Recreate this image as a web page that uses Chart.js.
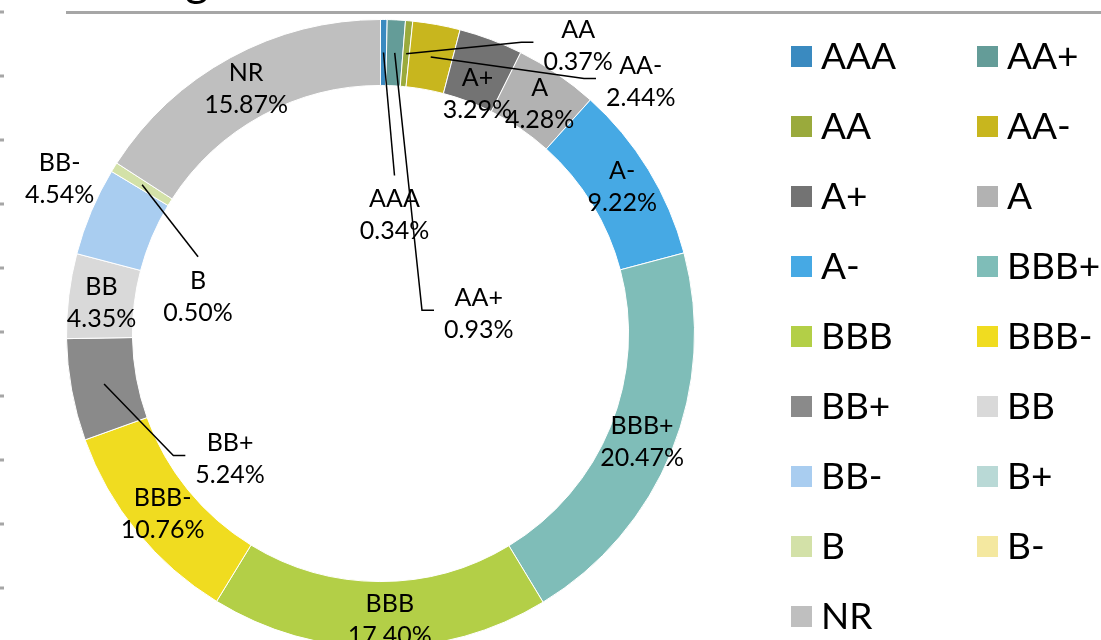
<!DOCTYPE html>
<html>
<head>
<meta charset="utf-8">
<script src="https://cdn.jsdelivr.net/npm/chart.js@4.4.0/dist/chart.umd.min.js"></script>
<style>
  html, body { margin: 0; padding: 0; overflow: hidden; background: #fff; }
  #wrap { position: absolute; left: 0; top: 0; width: 1101px; height: 660px; }
  #legend { position: absolute; left: 791px; top: 46px; display: grid;
            grid-template-columns: 186px 120px; grid-auto-rows: 70px;
            font-family: Lato, sans-serif; font-size: 37px; color: #000; }
  .item { display: flex; align-items: center; height: 21px; white-space: nowrap; }
  .box { width: 21px; height: 21px; margin-right: 9px; flex: none; }
  .item span { position: relative; top: -2px; line-height: 21px; }
</style>
</head>
<body>
<div id="wrap"><canvas id="graficoRating"></canvas></div>
<div id="legend"></div>
<script>
// rating buckets, share of portfolio in %
var ratingLabels = ['AAA','AA+','AA','AA-','A+','A','A-','BBB+','BBB','BBB-','BB+','BB','BB-','B+','B','B-','NR'];
var ratingShares = [0.34, 0.93, 0.37, 2.44, 3.29, 4.28, 9.22, 20.47, 17.40, 10.76, 5.24, 4.35, 4.54, 0, 0.50, 0, 15.87];
var ratingColors = ['#3a8ac0','#649c98','#9aaa3c','#c8b61e','#737373','#b2b2b2','#46a9e4','#7fbdb8',
                    '#b3cf47','#f0dc20','#8a8a8a','#d9d9d9','#a9cdf0','#b9d9d6','#d3e1a8','#f4e8a0','#bfbfbf'];

// where excel moved the labels (relative to the middle of the ring) and which get a leader line
var labelNudge = {
  'AAA':  {dx: 11,  dy: 162, leader: 'top'},
  'AA+':  {dx: 84,  dy: 260, leader: 'side'},
  'AA':   {dx: 172, dy: -9,  leader: 'side'},
  'AA-':  {dx: 210, dy: 24,  leader: 'side'},
  'A+':   {dx: -2,  dy: 23},
  'A':    {dx: 1,   dy: 2},
  'A-':   {dx: 2,   dy: -1},
  'BBB+': {dx: 1,   dy: 2},
  'BBB':  {dx: 10,  dy: 4},
  'BBB-': {dx: 0,   dy: 2},
  'BB+':  {dx: 126, dy: 74,  leader: 'side'},
  'BB':   {dx: 0,   dy: 2},
  'BB-':  {dx: -62, dy: -46},
  'B':    {dx: 56,  dy: 111, leader: 'top'},
  'NR':   {dx: 0,   dy: 1}
};

/* bits of the surrounding sheet: rule on top, ticks on the left, end of the title */
var frameBits = {
  id: 'frameBits',
  beforeDraw: function(chart) {
    var ctx = chart.ctx;
    ctx.save();
    ctx.fillStyle = '#a6a6a6';
    ctx.fillRect(66, 11, chart.width - 66, 3);
    for (var y = 12; y < chart.height; y += 64) {
      ctx.fillRect(0, y - 1.5, 4, 3);
    }
    ctx.fillStyle = '#000';
    ctx.font = '46px Lato';
    ctx.textBaseline = 'alphabetic';
    ctx.fillText('g', 185, -4);
    ctx.restore();
  }
};

/* data labels: name + percent, with leader lines for the moved ones */
var sliceLabels = {
  id: 'sliceLabels',
  afterDatasetsDraw: function(chart) {
    var ctx = chart.ctx;
    var meta = chart.getDatasetMeta(0);
    var data = chart.data.datasets[0].data;
    var total = data.reduce(function(a, b) { return a + b; }, 0);
    ctx.save();
    ctx.font = '25px Lato';
    ctx.textAlign = 'center';
    ctx.textBaseline = 'alphabetic';
    ctx.fillStyle = '#000';
    ctx.strokeStyle = '#000';
    ctx.lineWidth = 1.5;
    meta.data.forEach(function(arc, i) {
      if (!data[i]) return;
      var p = arc.getProps(['x', 'y', 'startAngle', 'endAngle', 'innerRadius', 'outerRadius'], true);
      var mid = (p.startAngle + p.endAngle) / 2;
      var r = (p.innerRadius + p.outerRadius) / 2;
      var ax = p.x + Math.cos(mid) * r;
      var ay = p.y + Math.sin(mid) * r;
      var name = chart.data.labels[i];
      var pct = (data[i] / total * 100).toFixed(2) + '%';
      var n = labelNudge[name] || {dx: 0, dy: 0};
      var cx = ax + n.dx, cy = ay + n.dy;
      if (n.leader) {
        ctx.beginPath();
        ctx.moveTo(ax, ay);
        if (n.leader === 'top') {
          ctx.lineTo(cx, cy - 39);
        } else {
          var w = Math.max(ctx.measureText(name).width, ctx.measureText(pct).width);
          var left = cx - w / 2;
          ctx.lineTo(left - 22, cy - 2.5);
          ctx.lineTo(left - 10, cy - 2.5);
        }
        ctx.stroke();
      }
      ctx.fillText(name, cx, cy - 16 + 9);
      ctx.fillText(pct, cx, cy + 16 + 9);
    });
    ctx.restore();
  }
};

var ctx = document.getElementById('graficoRating').getContext('2d');
var ratingChart = new Chart(ctx, {
  type: 'doughnut',
  data: {
    labels: ratingLabels,
    datasets: [{
      data: ratingShares,
      backgroundColor: ratingColors,
      borderColor: '#ffffff',
      borderWidth: 1,
      hoverOffset: 0
    }]
  },
  options: {
    responsive: true,
    maintainAspectRatio: false,
    animation: false,
    cutout: '79%',
    layout: { padding: { left: 66, top: 19, right: 406, bottom: 12 } },
    plugins: {
      legend: { display: false },
      tooltip: { enabled: true }
    }
  },
  plugins: [frameBits, sliceLabels]
});

// legend, row by row like the original
var legendBox = document.getElementById('legend');
ratingChart.data.labels.forEach(function(lbl, i) {
  var item = document.createElement('div');
  item.className = 'item';
  var sq = document.createElement('div');
  sq.className = 'box';
  sq.style.background = ratingChart.data.datasets[0].backgroundColor[i];
  var txt = document.createElement('span');
  txt.textContent = lbl;
  item.appendChild(sq);
  item.appendChild(txt);
  legendBox.appendChild(item);
});
</script>
</body>
</html>
